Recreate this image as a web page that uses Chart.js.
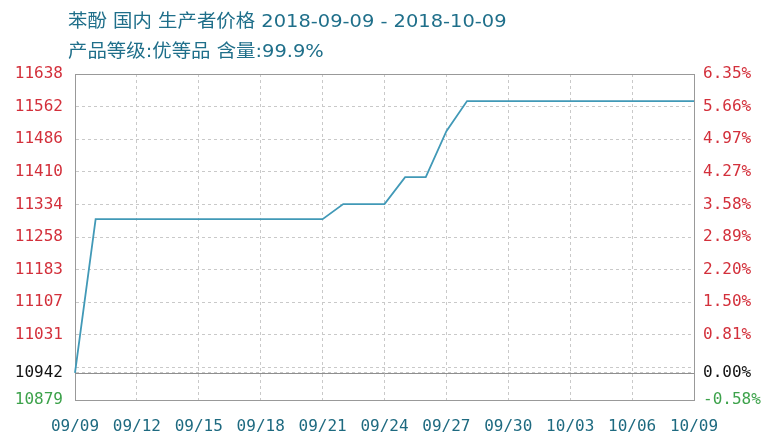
<!DOCTYPE html>
<html>
<head>
<meta charset="utf-8">
<script src="https://cdn.jsdelivr.net/npm/chart.js@4/dist/chart.umd.min.js"></script>
<style>
    body { margin: 0; background: #fff; }
    #contenedor { position: relative; width: 768px; height: 444px; }
    #titulo {
        position: absolute; left: 68px; top: 6px;
        font: 18.5px "DejaVu Sans", "Noto Sans CJK SC", sans-serif;
        color: #1f6f8a; line-height: 30px; white-space: nowrap;
        transform: scaleX(1.05); transform-origin: left top;
    }
</style>
</head>
<body>
<div id="contenedor">
    <canvas id="grafico" width="768" height="444"></canvas>
    <div id="titulo">苯酚 国内 生产者价格 2018-09-09 - 2018-10-09<br>产品等级:优等品 含量:99.9%</div>
</div>
<script>
// Fechas diarias (09/09 - 10/09)
const fechas = [
    '09/09', '09/10', '09/11', '09/12', '09/13', '09/14', '09/15', '09/16', '09/17', '09/18',
    '09/19', '09/20', '09/21', '09/22', '09/23', '09/24', '09/25', '09/26', '09/27', '09/28',
    '09/29', '09/30', '10/01', '10/02', '10/03', '10/04', '10/05', '10/06', '10/07', '10/08', '10/09'
];

// Precio diario
const precios = [
    10942, 11300, 11300, 11300, 11300, 11300, 11300, 11300, 11300, 11300,
    11300, 11300, 11300, 11335, 11335, 11335, 11398, 11398, 11505, 11575,
    11575, 11575, 11575, 11575, 11575, 11575, 11575, 11575, 11575, 11575, 11575
];

const precioBase = 10942;
const precioMin = 10879;
const precioMax = 11638;

// Marcas del eje (la de 10955 es solo línea de rejilla)
const ticksEje = [11638, 11562, 11486, 11410, 11334, 11258, 11183, 11107, 11031, 10955, 10942, 10879];
const etiquetasIzq = ['11638', '11562', '11486', '11410', '11334', '11258', '11183', '11107', '11031', '', '10942', '10879'];
const etiquetasDer = ['6.35%', '5.66%', '4.97%', '4.27%', '3.58%', '2.89%', '2.20%', '1.50%', '0.81%', '', '0.00%', '-0.58%'];

const fuenteEje = { family: '"DejaVu Sans Mono", monospace', size: 16 };

function colorEtiqueta(ctx) {
    const v = ticksEje[ctx.index];
    if (v === precioBase) return '#111111';
    return v > precioBase ? '#d3303b' : '#3da24b';
}

function fijarTicks(scale) {
    scale.ticks = ticksEje.map(v => ({ value: v }));
}

// Línea del precio base
const lineaBase = {
    id: 'lineaBase',
    beforeDatasetsDraw(chart) {
        const { ctx, chartArea, scales } = chart;
        const y = scales.y.getPixelForValue(precioBase);
        ctx.save();
        ctx.strokeStyle = '#8f8f8f';
        ctx.lineWidth = 1;
        ctx.beginPath();
        ctx.moveTo(chartArea.left, Math.round(y) + 0.5);
        ctx.lineTo(chartArea.right, Math.round(y) + 0.5);
        ctx.stroke();
        ctx.restore();
    }
};

new Chart(document.getElementById('grafico').getContext('2d'), {
    type: 'line',
    data: {
        labels: fechas,
        datasets: [{
            data: precios,
            borderColor: '#4199b7',
            borderWidth: 1.8,
            pointRadius: 0,
            tension: 0,
            fill: false
        }]
    },
    options: {
        responsive: false,
        animation: false,
        layout: { padding: { top: 74, left: 0, right: 0, bottom: 0 } },
        plugins: {
            legend: { display: false },
            tooltip: { enabled: false },
            title: { display: false }
        },
        scales: {
            x: {
                position: 'bottom',
                afterFit: s => { s.height = 44; },
                grid: {
                    color: ctx => ctx.index % 3 === 0 ? '#c9c9c9' : 'rgba(0,0,0,0)',
                    drawTicks: false
                },
                border: { color: '#999999', dash: [3, 3] },
                ticks: {
                    autoSkip: false,
                    maxRotation: 0,
                    minRotation: 0,
                    padding: 17,
                    color: '#1e6a80',
                    font: fuenteEje,
                    callback: (v, i) => i % 3 === 0 ? fechas[i] : ''
                }
            },
            xTop: {
                position: 'top',
                afterFit: s => { s.height = 0; },
                grid: { drawOnChartArea: false, drawTicks: false },
                border: { color: '#999999' },
                ticks: { display: false }
            },
            y: {
                position: 'left',
                min: precioMin,
                max: precioMax,
                afterBuildTicks: fijarTicks,
                afterFit: s => { s.width = 75; },
                grid: { color: '#c9c9c9', drawTicks: false },
                border: { color: '#999999', dash: [3, 3] },
                ticks: {
                    padding: 12,
                    color: colorEtiqueta,
                    font: fuenteEje,
                    callback: (v, i) => etiquetasIzq[i]
                }
            },
            y2: {
                position: 'right',
                min: precioMin,
                max: precioMax,
                afterBuildTicks: fijarTicks,
                afterFit: s => { s.width = 74; },
                grid: { drawOnChartArea: false, drawTicks: false },
                border: { color: '#999999' },
                ticks: {
                    padding: 9,
                    color: colorEtiqueta,
                    font: fuenteEje,
                    callback: (v, i) => etiquetasDer[i]
                }
            }
        }
    },
    plugins: [lineaBase]
});
</script>
</body>
</html>
